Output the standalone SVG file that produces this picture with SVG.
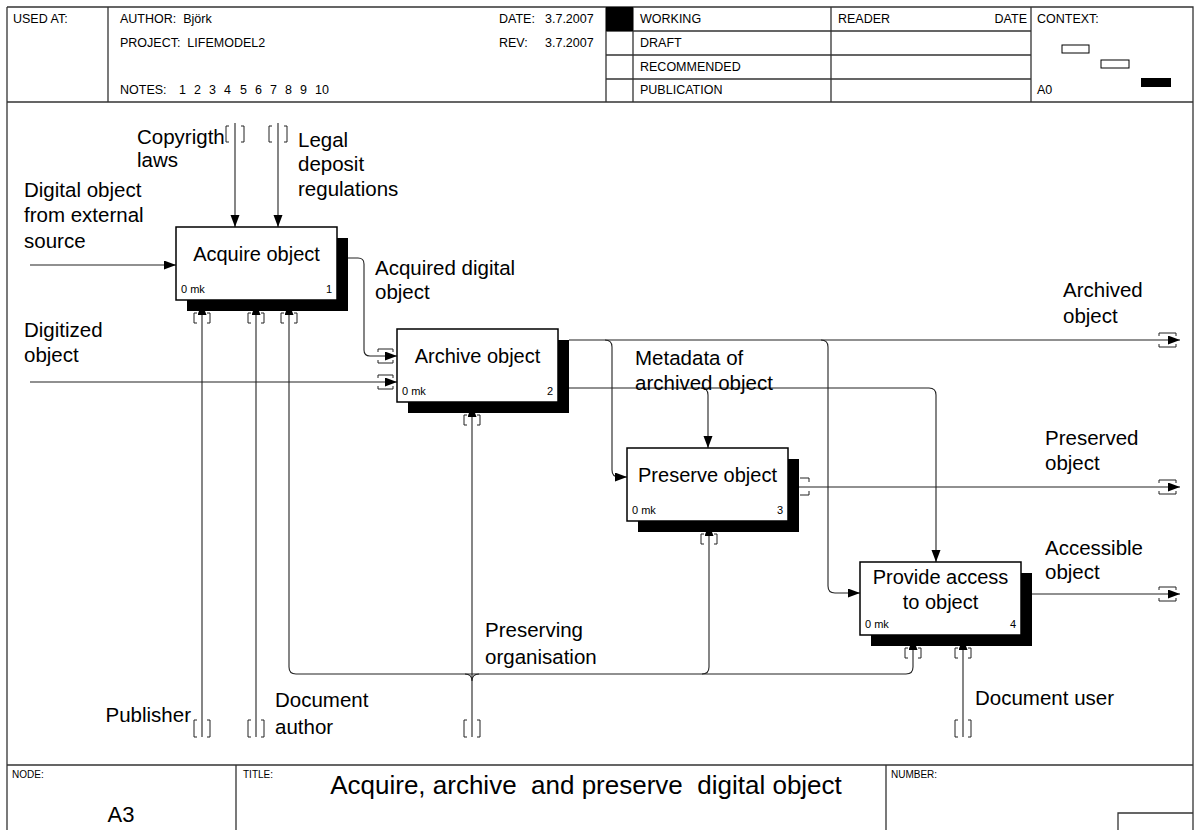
<svg xmlns="http://www.w3.org/2000/svg" width="1200" height="830" viewBox="0 0 1200 830">
  <style>
    .frame { fill: none; stroke: #333; stroke-width: 1.3; }
    .hd { font-family: "Liberation Sans", Arial, sans-serif; font-size: 12.5px; fill: #000; white-space: pre; }
    .ft { font-family: "Liberation Sans", Arial, sans-serif; font-size: 10px; fill: #000; }
    .lbl { font-family: "Liberation Sans", Arial, sans-serif; font-size: 20.5px; fill: #000; }
    .box-title { font-family: "Liberation Sans", Arial, sans-serif; font-size: 20px; fill: #000; text-anchor: middle; }
    .small { font-family: "Liberation Sans", Arial, sans-serif; font-size: 11px; fill: #000; }
    .box { fill: #fff; stroke: #000; stroke-width: 1.5; }
    .shadow { fill: #000; }
    .wire { fill: none; stroke: #222; stroke-width: 1.1; }
    .arrow { fill: none; stroke: #222; stroke-width: 1.1; marker-end: url(#head); }
    .tunnel { fill: none; stroke: #222; stroke-width: 1; }
  </style>
  <defs>
    <marker id="head" markerUnits="userSpaceOnUse" markerWidth="13" markerHeight="10" refX="12" refY="4.5" orient="auto">
      <path d="M0,0 L12,4.5 L0,9 z" fill="#000"/>
    </marker>
  </defs>

  <rect width="1200" height="830" fill="#fff"/>

  <!-- header block -->
  <g id="header">
    <path class="frame" d="M7,7 H1193 V830 M7,7 V830 M7,102 H1193"/>
    <path class="frame" d="M108,7 V102 M606,7 V102 M633,7 V102 M831,7 V102 M1031,7 V102"/>
    <path class="frame" d="M606,31 H1031 M606,55 H1031 M606,79 H1031"/>
    <rect x="606" y="7" width="27" height="24" fill="#000"/>
    <text class="hd" x="13" y="23">USED AT:</text>
    <text class="hd" x="120" y="23">AUTHOR:  Björk</text>
    <text class="hd" x="120" y="47">PROJECT:  LIFEMODEL2</text>
    <text class="hd" y="94"><tspan x="120">NOTES:</tspan><tspan x="179">1</tspan><tspan x="194">2</tspan><tspan x="209">3</tspan><tspan x="224">4</tspan><tspan x="240">5</tspan><tspan x="255">6</tspan><tspan x="270">7</tspan><tspan x="285">8</tspan><tspan x="300">9</tspan><tspan x="315">10</tspan></text>
    <text class="hd" x="499" y="23">DATE:</text>
    <text class="hd" x="545" y="23">3.7.2007</text>
    <text class="hd" x="499" y="47">REV:</text>
    <text class="hd" x="545" y="47">3.7.2007</text>
    <text class="hd" x="640" y="23">WORKING</text>
    <text class="hd" x="640" y="47">DRAFT</text>
    <text class="hd" x="640" y="71">RECOMMENDED</text>
    <text class="hd" x="640" y="94">PUBLICATION</text>
    <text class="hd" x="838" y="23">READER</text>
    <text class="hd" x="1027" y="23" text-anchor="end">DATE</text>
    <text class="hd" x="1037" y="23">CONTEXT:</text>
    <text class="hd" x="1037" y="94">A0</text>
    <rect x="1062" y="45" width="27" height="8" fill="#fff" stroke="#000" stroke-width="1"/>
    <rect x="1101" y="60" width="28" height="8" fill="#fff" stroke="#000" stroke-width="1"/>
    <rect x="1141" y="78" width="30" height="9" fill="#000"/>
  </g>

  <!-- footer block -->
  <g id="footer">
    <path class="frame" d="M7,765 H1193 M236,765 V830 M886,765 V830 M1118,830 V813 H1193"/>
    <text class="ft" x="12" y="778">NODE:</text>
    <text class="ft" x="243" y="778">TITLE:</text>
    <text class="ft" x="891" y="778">NUMBER:</text>
    <text x="586" y="794" text-anchor="middle" style="white-space:pre" font-family="Liberation Sans, Arial, sans-serif" font-size="26">Acquire, archive  and preserve  digital object</text>
    <text x="121" y="822" text-anchor="middle" font-family="Liberation Sans, Arial, sans-serif" font-size="22">A3</text>
  </g>

  <!-- arrows between activities -->
  <g id="connectors">
    <!-- inputs -->
    <path class="arrow" d="M30,265 H176"/>
    <path class="arrow" d="M30,382 H397"/>
    <path class="arrow" d="M348,258 H358 Q364,258 364,264 V350 Q364,356 370,356 H397"/>
    <!-- controls of node 1 -->
    <path class="arrow" d="M235,123 V227"/>
    <path class="arrow" d="M278,123 V227"/>
    <path class="tunnel" d="M229,126 H226 V142 H229 M241,126 H244 V142 H241"/>
    <path class="tunnel" d="M272,126 H269 V142 H272 M284,126 H287 V142 H284"/>
    <!-- archived object and its branches -->
    <path class="arrow" d="M569,340 H1180"/>
    <path class="arrow" d="M605,340 Q612,340 612,347 V470 Q612,477 619,477 H627"/>
    <path class="arrow" d="M821,340 Q828,340 828,347 V586 Q828,593 835,593 H860"/>
    <!-- metadata of archived object -->
    <path class="arrow" d="M569,388 H929 Q936,388 936,395 V562"/>
    <path class="arrow" d="M701,388 Q708,388 708,395 V448"/>
    <!-- outputs of nodes 3 and 4 -->
    <path class="arrow" d="M799,487 H1180"/>
    <path class="arrow" d="M1032,594 H1180"/>
    <!-- tunnels at node 2 inputs -->
    <path class="tunnel" d="M378,352 V349 H393 V352 M378,360 V363 H393 V360"/>
    <path class="tunnel" d="M378,378 V375 H393 V378 M378,386 V389 H393 V386"/>
    <!-- tunnels at node 3 output -->
    <path class="tunnel" d="M800,478 H809 V482 M800,495 H809 V491"/>
    <!-- tunnels at the right border -->
    <path class="tunnel" d="M1159,336 V333 H1176 V336 M1159,344 V347 H1176 V344"/>
    <path class="tunnel" d="M1159,483 V480 H1176 V483 M1159,491 V494 H1176 V491"/>
    <path class="tunnel" d="M1159,590 V587 H1176 V590 M1159,598 V601 H1176 V598"/>
    <!-- mechanisms -->
    <path class="arrow" d="M202,737 V303"/>
    <path class="arrow" d="M256,737 V303"/>
    <path class="arrow" d="M289,667 V303"/>
    <path class="arrow" d="M472,737 V405"/>
    <path class="arrow" d="M709,667 V524"/>
    <path class="arrow" d="M913,667 V638"/>
    <path class="arrow" d="M963,737 V638"/>
    <!-- shared mechanism bus -->
    <path class="wire" d="M289,667 Q289,674 296,674 H906 Q913,674 913,667"/>
    <path class="wire" d="M702,674 Q709,674 709,667"/>
    <path class="wire" d="M465,674 Q472,674 472,681 M479,674 Q472,674 472,681"/>
    <!-- tunnels below the activity boxes -->
    <path class="tunnel" d="M197,313 H194 V323 H197 M207,313 H210 V323 H207"/>
    <path class="tunnel" d="M251,313 H248 V323 H251 M261,313 H264 V323 H261"/>
    <path class="tunnel" d="M284,313 H281 V323 H284 M294,313 H297 V323 H294"/>
    <path class="tunnel" d="M467,415 H464 V425 H467 M477,415 H480 V425 H477"/>
    <path class="tunnel" d="M704,534 H701 V544 H704 M714,534 H717 V544 H714"/>
    <path class="tunnel" d="M908,648 H905 V658 H908 M918,648 H921 V658 H918"/>
    <path class="tunnel" d="M958,648 H955 V658 H958 M968,648 H971 V658 H968"/>
    <!-- tunnels at the bottom ends -->
    <path class="tunnel" d="M197,720 H194 V737 H197 M207,720 H210 V737 H207"/>
    <path class="tunnel" d="M251,720 H248 V737 H251 M261,720 H264 V737 H261"/>
    <path class="tunnel" d="M467,720 H464 V737 H467 M477,720 H480 V737 H477"/>
    <path class="tunnel" d="M958,720 H955 V737 H958 M968,720 H971 V737 H968"/>
  </g>

  <!-- activity boxes -->
  <g id="node-1">
    <rect class="shadow" x="187" y="238" width="161" height="73"/>
    <rect class="box" x="176" y="227" width="161" height="73"/>
    <text class="box-title" x="256.5" y="261">Acquire object</text>
    <text class="small" x="181" y="293">0 mk</text>
    <text class="small" x="332" y="293" text-anchor="end">1</text>
  </g>
  <g id="node-2">
    <rect class="shadow" x="408" y="340" width="161" height="73"/>
    <rect class="box" x="397" y="329" width="161" height="73"/>
    <text class="box-title" x="477.5" y="363">Archive object</text>
    <text class="small" x="402" y="395">0 mk</text>
    <text class="small" x="553" y="395" text-anchor="end">2</text>
  </g>
  <g id="node-3">
    <rect class="shadow" x="638" y="459" width="161" height="73"/>
    <rect class="box" x="627" y="448" width="161" height="73"/>
    <text class="box-title" x="707.5" y="482">Preserve object</text>
    <text class="small" x="632" y="514">0 mk</text>
    <text class="small" x="783" y="514" text-anchor="end">3</text>
  </g>
  <g id="node-4">
    <rect class="shadow" x="871" y="573" width="161" height="73"/>
    <rect class="box" x="860" y="562" width="161" height="73"/>
    <text class="box-title" x="940.5" y="584">Provide access</text>
    <text class="box-title" x="940.5" y="609">to object</text>
    <text class="small" x="865" y="628">0 mk</text>
    <text class="small" x="1016" y="628" text-anchor="end">4</text>
  </g>

  <!-- arrow labels -->
  <g id="labels">
    <text class="lbl" x="24" y="197">Digital object</text>
    <text class="lbl" x="24" y="222">from external</text>
    <text class="lbl" x="24" y="248">source</text>
    <text class="lbl" x="137" y="144">Copyrigth</text>
    <text class="lbl" x="137" y="167">laws</text>
    <text class="lbl" x="298" y="147">Legal</text>
    <text class="lbl" x="298" y="171">deposit</text>
    <text class="lbl" x="298" y="196">regulations</text>
    <text class="lbl" x="375" y="275">Acquired digital</text>
    <text class="lbl" x="375" y="299">object</text>
    <text class="lbl" x="24" y="337">Digitized</text>
    <text class="lbl" x="24" y="362">object</text>
    <text class="lbl" x="1063" y="297">Archived</text>
    <text class="lbl" x="1063" y="323">object</text>
    <text class="lbl" x="635" y="365">Metadata of</text>
    <text class="lbl" x="635" y="390">archived object</text>
    <text class="lbl" x="1045" y="445">Preserved</text>
    <text class="lbl" x="1045" y="470">object</text>
    <text class="lbl" x="1045" y="555">Accessible</text>
    <text class="lbl" x="1045" y="579">object</text>
    <text class="lbl" x="485" y="637">Preserving</text>
    <text class="lbl" x="485" y="664">organisation</text>
    <text class="lbl" x="191" y="722" text-anchor="end">Publisher</text>
    <text class="lbl" x="275" y="707">Document</text>
    <text class="lbl" x="275" y="734">author</text>
    <text class="lbl" x="975" y="705">Document user</text>
  </g>
</svg>
